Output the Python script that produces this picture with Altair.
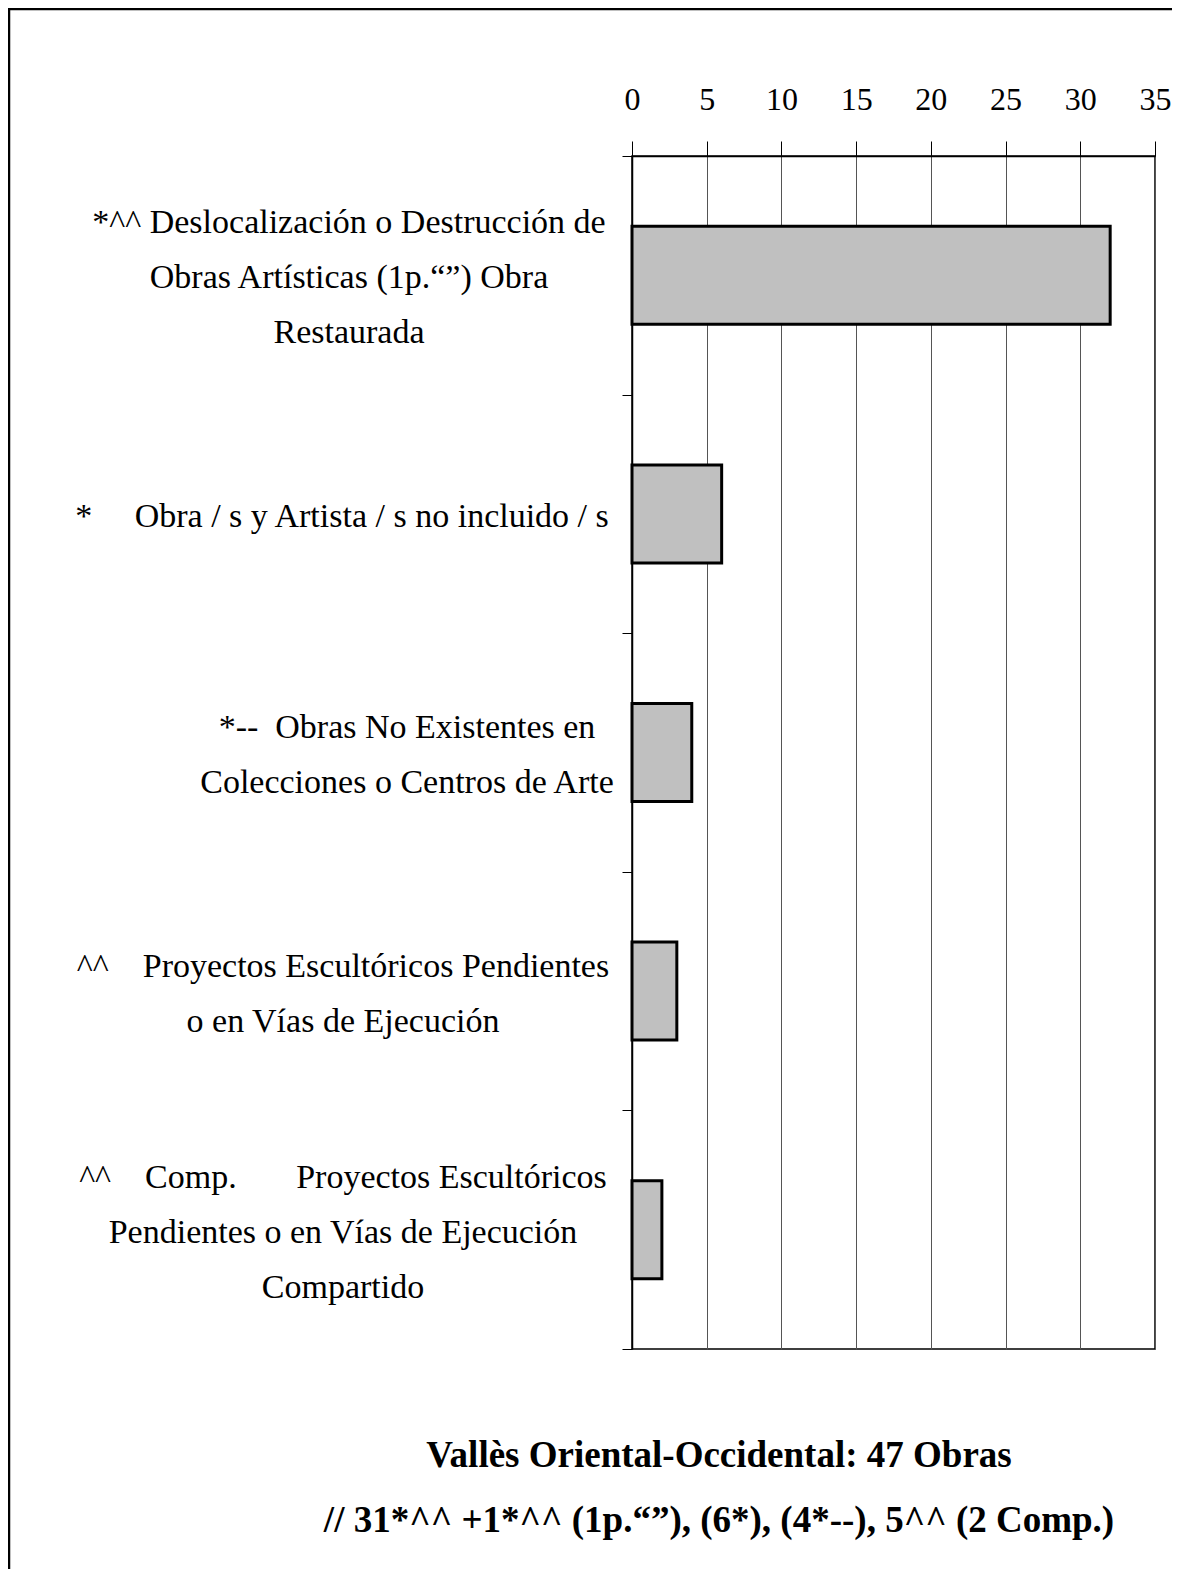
import altair as alt
import pandas as pd

categories = [
    "*^^ Deslocalización o Destrucción de\nObras Artísticas (1p.“”) Obra\nRestaurada",
    "*\u00a0\u00a0\u00a0\u00a0\u00a0Obra / s y Artista / s no incluido / s",
    "*--\u00a0\u00a0Obras No Existentes en\nColecciones o Centros de Arte",
    "^^\u00a0\u00a0\u00a0\u00a0Proyectos Escultóricos Pendientes\no en Vías de Ejecución",
    "^^\u00a0\u00a0\u00a0\u00a0Comp.\u00a0\u00a0\u00a0\u00a0\u00a0\u00a0\u00a0Proyectos Escultóricos\nPendientes o en Vías de Ejecución\nCompartido",
]
values = [32, 6, 4, 3, 2]
x_ticks = [0, 5, 10, 15, 20, 25, 30, 35]
title_lines = [
    "Vallès Oriental-Occidental: 47 Obras",
    "// 31*^^ +1*^^ (1p.“”), (6*), (4*--), 5^^ (2 Comp.)",
]

# label block centres, in px relative to the plot's left edge (layout only)
label_centre_x = [-283, -290, -225, -289, -289]

df = pd.DataFrame({"cat": categories, "val": values})
df_title = pd.DataFrame({"t": ["\n".join(title_lines)]})

FONT = "Liberation Serif"
W, H = 523, 1193
PAD = {"left": 624, "top": 148, "right": 17, "bottom": 220}
LINE_H = 55

y_enc = alt.Y(
    "cat:N",
    sort=None,
    scale=alt.Scale(domain=categories, paddingInner=0, paddingOuter=0),
    axis=alt.Axis(
        title=None, tickBand="extent", tickSize=10, tickColor="black",
        domainColor="black", domainWidth=1.5, grid=False, labels=False,
    ),
)

x_enc = alt.X(
    "val:Q",
    stack=None,
    scale=alt.Scale(domain=[0, 35], nice=False, zero=True),
    axis=alt.Axis(
        orient="top", values=x_ticks, title=None, grid=True,
        gridColor="#555555", gridWidth=1, tickSize=15, tickColor="black",
        domainColor="black", domainWidth=1.5,
        labelFont=FONT, labelFontSize=32, labelColor="black",
        labelPadding=25, labelAngle=0, labelFlush=False,
    ),
)

bars = alt.Chart(df).mark_bar(
    fill="#c0c0c0", stroke="black", strokeWidth=3, size=98
).encode(x=x_enc, y=y_enc)

label_layers = []
for cat, cx in zip(categories, label_centre_x):
    n_lines = cat.count("\n") + 1
    label_layers.append(
        alt.Chart(df)
        .transform_filter(alt.FieldEqualPredicate(field="cat", equal=cat))
        .mark_text(
            font=FONT, fontSize=34, color="black", align="center",
            baseline="middle", lineBreak="\n", lineHeight=LINE_H,
            dy=-(n_lines - 1) * LINE_H / 2 + 3,
        )
        .encode(text="cat:N", y=y_enc, x=alt.value(cx))
    )

title_text = alt.Chart(df_title).mark_text(
    font=FONT, fontSize=37, fontWeight="bold", color="black",
    align="center", baseline="top", lineBreak="\n", lineHeight=65,
).encode(
    text="t:N",
    x=alt.value(87),
    y=alt.value(1282),
)

frame = alt.Chart(pd.DataFrame({"a": [0]})).mark_rect(
    fill="transparent", stroke="black", strokeWidth=2.5
).encode(
    x=alt.value(-623), x2=alt.value(620),
    y=alt.value(-147), y2=alt.value(1500),
)

chart = alt.layer(bars, *label_layers, title_text, frame).properties(
    width=W, height=H,
    padding=PAD,
    autosize=alt.AutoSizeParams(type="none"),
).configure(
    background="white",
    view=alt.ViewConfig(stroke="black", strokeWidth=1.5),
)

chart.save("out.html", embed_options={"renderer": "svg", "actions": False})
